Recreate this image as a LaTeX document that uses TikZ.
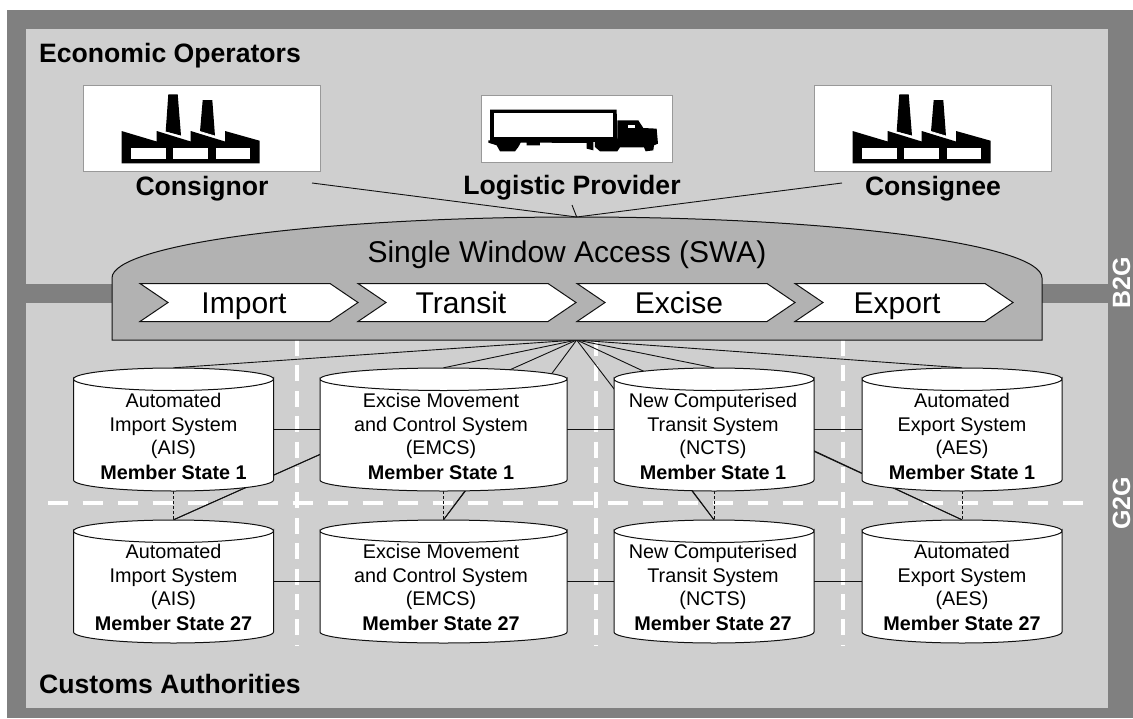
\documentclass[tikz,border=0pt]{standalone}
\usepackage{fontspec}
\setmainfont{Liberation Sans}
\definecolor{frame}{HTML}{808080}
\definecolor{panel}{HTML}{CFCFCF}
\definecolor{swafill}{HTML}{B2B2B2}
\definecolor{boxline}{HTML}{999999}
\definecolor{ink}{HTML}{111111}
\newcommand{\fsz}[1]{\fontsize{#1}{#1}\selectfont}
\tikzset{
  conn/.style={draw=ink,line width=0.9pt},
  vdash/.style={draw=white,line width=4pt,dash pattern=on 16pt off 9.4pt},
  hdash/.style={draw=white,line width=4pt,dash pattern=on 20pt off 15pt},
  picbox/.style={draw=boxline,fill=white,line width=1pt,inner sep=0pt},
  heading/.style={font=\fsz{26.6}\bfseries,inner sep=0pt,text=black,anchor=base west},
  actor/.style={font=\fsz{26.6}\bfseries,inner sep=0pt,text=black,anchor=base},
  arrowtext/.style={font=\fsz{30},inner sep=0pt,text=black,anchor=base},
  cylanchor/.style={inner sep=0pt,minimum height=123pt},
  cyltext/.style={font=\fsz{19.8},inner sep=0pt,anchor=base,text=black},
  cylbold/.style={font=\fsz{19.8}\bfseries,inner sep=0pt,anchor=base,text=black},
  tag/.style={font=\fsz{25}\bfseries,text=white,inner sep=0pt,rotate=90,anchor=base},
  cylbody/.style={draw=ink,fill=white,line width=1pt},
  stage/.style={draw=ink,fill=white,line width=1pt},
}
% centre x, top y, half width
\newcommand{\cylshape}[3]{%
  \path[cylbody] ({#1-#3},{#2+11}) -- ({#1-#3},{#2+112})
    .. controls ({#1-#3},{#2+118}) and ({#1-0.55*#3},{#2+123}) .. ({#1},{#2+123})
    .. controls ({#1+0.55*#3},{#2+123}) and ({#1+#3},{#2+118}) .. ({#1+#3},{#2+112})
    -- ({#1+#3},{#2+11})
    .. controls ({#1+#3},{#2+17}) and ({#1+0.55*#3},{#2+22.5}) .. ({#1},{#2+22.5})
    .. controls ({#1-0.55*#3},{#2+22.5}) and ({#1-#3},{#2+17}) .. ({#1-#3},{#2+11})
    .. controls ({#1-#3},{#2+5}) and ({#1-0.55*#3},{#2}) .. ({#1},{#2})
    .. controls ({#1+0.55*#3},{#2}) and ({#1+#3},{#2+5}) .. ({#1+#3},{#2+11})
    .. controls ({#1+#3},{#2+17}) and ({#1+0.55*#3},{#2+22.5}) .. ({#1},{#2+22.5})
    .. controls ({#1-0.55*#3},{#2+22.5}) and ({#1-#3},{#2+17}) .. ({#1-#3},{#2+11}) -- cycle;
}
% prefix, centre x, first baseline, line 1, line 2, line 3, line 4
\newcommand{\cyllabel}[7]{%
  \node[cyltext] (#1a) at ({#2},{#3}) {#4};
  \node[cyltext] (#1b) at ({#2},{#3+24}) {#5};
  \node[cyltext] (#1c) at ({#2},{#3+47.5}) {#6};
  \node[cylbold] (#1d) at ({#2},{#3+72}) {#7};
}
\newcommand{\factory}[1]{%
  \begin{scope}[shift={(#1,0)}]
    \fill[black] (121.5,163.3) -- (121.5,131) -- (156.7,141.5) -- (156.7,131) -- (190.7,141.5) -- (190.7,131) -- (225,141.5) -- (225,131) -- (259.5,140.7) -- (259.5,163.3) -- cycle;
    \fill[black] (168.3,94.3) -- (177.7,94.3) -- (181,135.5) -- (165.7,131.5) -- cycle;
    \fill[black] (202.7,100) -- (212.3,100) -- (215,136) -- (200,131.5) -- cycle;
    \fill[white] (131,147.7) rectangle (165.7,159);
    \fill[white] (173.3,147.7) rectangle (207.7,159);
    \fill[white] (216,147.7) rectangle (250,159);
    \draw[white,line width=0.7pt] (165.5,132) -- (181,136.6);
    \draw[white,line width=0.7pt] (200,131.5) -- (215,136);
  \end{scope}}
\begin{document}
\begin{tikzpicture}[x=1pt,y=-1pt]
\useasboundingbox (0,0) rectangle (1133,718);
\fill[frame] (7,10) rectangle (1133,718);
\fill[panel] (26,29) rectangle (1108,284);
\fill[panel] (26,303) rectangle (1108,708);
% grid
\coordinate (v1a) at (297,340); \coordinate (v1b) at (297,645);
\coordinate (v2a) at (596,340); \coordinate (v2b) at (596,645);
\coordinate (v3a) at (843,340); \coordinate (v3b) at (843,645);
\coordinate (h1a) at (47.7,503); \coordinate (h1b) at (1085,503);
\draw[vdash] (v1a) -- (v1b);
\draw[vdash] (v2a) -- (v2b);
\draw[vdash] (v3a) -- (v3b);
\draw[hdash] (h1a) -- (h1b);
% anchors for connectors: invisible nodes
\coordinate (hub) at (576.7,340);
\coordinate (top) at (576.7,217);
\node[cylanchor,minimum width=200pt] (ais1) at (173.5,429.5) {};
\node[cylanchor,minimum width=247pt] (emcs1) at (443.5,429.5) {};
\node[cylanchor,minimum width=200pt] (ncts1) at (714,429.5) {};
\node[cylanchor,minimum width=200pt] (aes1) at (962,429.5) {};
\node[cylanchor,minimum width=200pt] (ais27) at (173.5,581.5) {};
\node[cylanchor,minimum width=247pt] (emcs27) at (443.5,581.5) {};
\node[cylanchor,minimum width=200pt] (ncts27) at (714,581.5) {};
\node[cylanchor,minimum width=200pt] (aes27) at (962,581.5) {};
% fan
\foreach \t in {ais1,emcs1,ncts1,aes1,ais27,emcs27,ncts27,aes27}
  \draw[conn] (hub) -- (\t.north);
% horizontal
\draw[conn] (ais1.east) -- (emcs1.west);
\draw[conn] (emcs1.east) -- (ncts1.west);
\draw[conn] (ncts1.east) -- (aes1.west);
\draw[conn] (ais27.east) -- (emcs27.west);
\draw[conn] (emcs27.east) -- (ncts27.west);
\draw[conn] (ncts27.east) -- (aes27.west);
% diagonals
\draw[conn] ([yshift=-25pt]emcs1.west) -- (ais27.north);
\draw[conn] ([xshift=-55pt]emcs1.east) -- (emcs27.north);
\draw[conn] ([xshift=33pt]ncts1.west) -- (ncts27.north);
\draw[conn] ([yshift=-22pt]ncts1.east) -- (aes27.north);
% verticals
\foreach \t/\u in {ais1/ais27,emcs1/emcs27,ncts1/ncts27,aes1/aes27}
  \draw[draw=ink,line width=0.8pt,dash pattern=on 3pt off 2pt] (\t.south) -- (\u.north);
% cylinders
\cylshape{173.5}{368}{100}
\cylshape{443.5}{368}{123.5}
\cylshape{714}{368}{100}
\cylshape{962}{368}{100}
\cylshape{173.5}{520}{100}
\cylshape{443.5}{520}{123.5}
\cylshape{714}{520}{100}
\cylshape{962}{520}{100}
\cyllabel{tA}{173.5}{407}{Automated}{Import System}{(AIS)}{Member State 1}
\cyllabel{tE}{441}{407}{Excise Movement}{and Control System}{(EMCS)}{Member State 1}
\cyllabel{tN}{713}{407}{New Computerised}{Transit System}{(NCTS)}{Member State 1}
\cyllabel{tX}{962}{407}{Automated}{Export System}{(AES)}{Member State 1}
\cyllabel{uA}{173.5}{558}{Automated}{Import System}{(AIS)}{Member State 27}
\cyllabel{uE}{441}{558}{Excise Movement}{and Control System}{(EMCS)}{Member State 27}
\cyllabel{uN}{713}{558}{New Computerised}{Transit System}{(NCTS)}{Member State 27}
\cyllabel{uX}{962}{558}{Automated}{Export System}{(AES)}{Member State 27}
% SWA
\path[draw=ink,fill=swafill,line width=1pt] (112,278)
  .. controls (112,244.3) and (320,217) .. (top)
  .. controls (834,217) and (1042,244.3) .. (1042,278)
  -- (1042,340) -- (112,340) -- cycle;
\node[arrowtext] (swa) at (567,262) {Single Window Access (SWA)};
% stages
\foreach \x/\n/\tx in {140/Import/244,358/Transit/461,577/Excise/679,795/Export/897}{
  \path[stage] (\x,283.5) -- ({\x+190},283.5) -- ({\x+218},302.5) -- ({\x+190},321.5) -- (\x,321.5) -- ({\x+28},302.5) -- cycle;
  \node[arrowtext] at (\tx,313) {\n};
}
% actors
\node[heading] (eo) at (39,62) {Economic Operators};
\node[heading] (ca) at (39,693) {Customs Authorities};
\path[picbox] (83,85.5) rectangle (320.7,171.3);
\path[picbox] (814,85.5) rectangle (1051.7,171.3);
\path[picbox] (481.7,95.5) rectangle (672,162);
\factory{0}
\factory{731}
% truck
\begin{scope}[shift={(480,92)},x=0.3333pt,y=-0.3333pt]
  \fill[black] (30,53) -- (410,53) -- (412,145) -- (340,150) -- (340,175) -- (320,170) -- (320,153) -- (180,152) -- (180,160) -- (140,160) -- (140,152) -- (122,152) -- (115,165) -- (105,178) -- (90,178) -- (80,178) -- (60,178) -- (50,160) -- (25,152) -- (25,145) -- (30,145) -- cycle;
  \fill[white] (42,62) rectangle (398,135);
  \fill[black] (412,85) -- (475,85) -- (490,108) -- (530,110) -- (534,155) -- (522,160) -- (520,175) -- (497,178) -- (492,166) -- (420,166) -- (412,178) -- (360,178) -- (345,165) -- (345,140) -- (412,140) -- cycle;
  \fill[white] (443,98) rectangle (465,108);
\end{scope}
\coordinate (cs) at (312,183);
\coordinate (cn) at (842,183);
\coordinate (lp) at (572,205);
\node[actor] (consignor) at (202,195) {Consignor};
\node[actor] (logistic) at (572,194) {Logistic Provider};
\node[actor] (consignee) at (933,195) {Consignee};
\draw[conn] (cs) -- (top);
\draw[conn] (cn) -- (top);
\draw[conn] (lp) -- (top);
% tags
\node[tag] (b2g) at (1130,282.5) {B2G};
\node[tag] (g2g) at (1130,503.5) {G2G};
\end{tikzpicture}
\end{document}
